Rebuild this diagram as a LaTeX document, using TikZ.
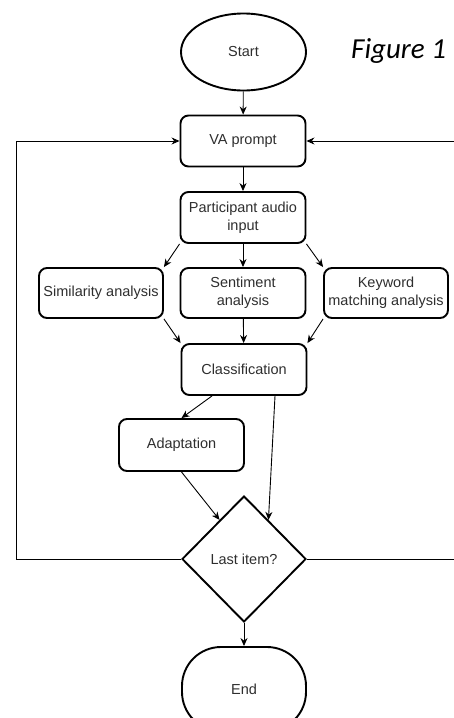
\documentclass[tikz,border=0pt]{standalone}
\usepackage{fontspec}
\setmainfont{Liberation Sans}
\newfontfamily\captionfont{Carlito}
\usetikzlibrary{shapes.geometric,arrows.meta}

\tikzset{
    stepbox/.style={draw, line width=1.9pt, rounded corners=8pt, minimum width=125pt,
        minimum height=51pt, inner sep=0pt, align=center, text=black!82,
        font=\fontsize{14.5}{18}\selectfont},
    terminal/.style={stepbox, ellipse, rounded corners=0pt, minimum height=77pt},
    decision/.style={stepbox, diamond, rounded corners=0pt, minimum width=124pt, minimum height=126pt},
    flow/.style={-{Stealth[length=8pt,width=7pt]}, line width=0.9pt}
}

\begin{document}
\begin{tikzpicture}[x=1pt,y=-1pt]
        \useasboundingbox (0,0) rectangle (454,718);

        % Define the steps
        \node[terminal] (start) at (243.5,52) {Start};
        \node[stepbox] (va) at (243,141) {VA prompt};
        \node[stepbox] (audio) at (243,217.5) {Participant audio\\input};
        \node[stepbox, minimum width=124pt, minimum height=50pt] (sim) at (101,293) {Similarity analysis};
        \node[stepbox, minimum height=50pt] (sent) at (243,293) {Sentiment\\analysis};
        \node[stepbox, minimum width=124pt, minimum height=50pt] (key) at (386,293) {Keyword\\matching analysis};
        \node[stepbox] (class) at (244,369.5) {Classification};
        \node[stepbox, minimum height=52pt] (adapt) at (181.5,445) {Adaptation};
        \node[decision] (last) at (244,559) {Last item?};
        \node[stepbox, rounded corners=39pt, minimum width=124pt, minimum height=84pt] (end) at (244,689) {End};

        \node[anchor=base west, inner sep=0pt, font=\captionfont\itshape\fontsize{29}{31}\selectfont] (fig) at (351,58) {Figure 1};

        % Loop corners
        \coordinate (loopL) at (16,559);
        \coordinate (loopR) at (462,559);

        % Draw arrows
        \draw[flow] (start) -- (va);
        \draw[flow] (va) -- (audio);
        \draw[flow] (audio.south west) -- (sim.north east);
        \draw[flow] (audio) -- (sent);
        \draw[flow] (audio.south east) -- (key.north west);
        \draw[flow] (sim.south east) -- (class.north west);
        \draw[flow] (sent) -- (class);
        \draw[flow] (key.south west) -- (class.north east);
        \draw[flow] ([xshift=-32pt]class.south) -- (adapt.north);
        \draw[flow] ([xshift=31pt]class.south) -- (last.58);
        \draw[flow] (adapt.south) -- (last.122);
        \draw[flow] (last) -- (end);
        \draw[flow] (last.west) -- (loopL) |- (va.west);
        \draw[flow] (last.east) -- (loopR) |- (va.east);
    \end{tikzpicture}
\end{document}
